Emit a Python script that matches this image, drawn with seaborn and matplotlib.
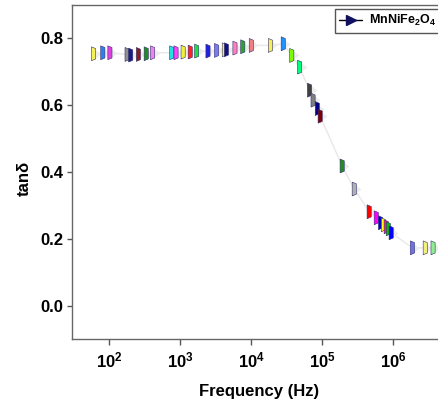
import numpy as np
import pandas as pd
import seaborn as sns
import matplotlib
matplotlib.use("Agg")
from matplotlib import pyplot as plt
from matplotlib.path import Path
from matplotlib.lines import Line2D

# ---------- dados ----------
frequencia = [60, 81, 102, 178, 200, 257, 331, 407, 759, 871,
              1096, 1380, 1698, 2455, 3236, 4169, 4467, 5888, 7586, 10000,
              18620, 28180, 37150, 47860, 66070, 74130, 85110, 93330, 190500, 281800,
              457100, 575400, 660700, 724400, 794300, 851100, 933300, 1862000, 2818000, 3631000]
tan_delta = [0.754, 0.757, 0.757, 0.752, 0.750, 0.752, 0.754, 0.757, 0.757, 0.757,
             0.759, 0.759, 0.762, 0.762, 0.764, 0.766, 0.766, 0.771, 0.775, 0.779,
             0.779, 0.784, 0.749, 0.714, 0.645, 0.615, 0.590, 0.567, 0.418, 0.349,
             0.281, 0.263, 0.248, 0.242, 0.236, 0.230, 0.218, 0.173, 0.173, 0.173]
serie = "MnNiFe$_\\mathbf{2}$O$_\\mathbf{4}$"
x_ticks = [1e2, 1e3, 1e4, 1e5, 1e6]
x_tick_labels = [r"$\mathbf{10^{2}}$", r"$\mathbf{10^{3}}$", r"$\mathbf{10^{4}}$",
                 r"$\mathbf{10^{5}}$", r"$\mathbf{10^{6}}$"]
y_ticks = [0.0, 0.2, 0.4, 0.6, 0.8]
y_tick_labels = ["0.0", "0.2", "0.4", "0.6", "0.8"]

# cores "misturadas" dos marcadores como aparecem na imagem
cores = ['#f5f05a', '#2e7fe8', '#e040e0', '#909090', '#1a1a80', '#8b1a1a', '#228b22', '#ee82ee',
         '#20e0e0', '#ff40ff', '#f0f040', '#ff2020', '#20e040', '#2020e0', '#7b7bef', '#f0f060',
         '#101080', '#ff80c0', '#30a030', '#f08080', '#f5f05a', '#1e90ff', '#7cfc00', '#00ff7f',
         '#404040', '#808080', '#000080', '#800000', '#228b22', '#b0b0b0', '#ff0000', '#ff00ff',
         '#0000cd', '#ffff00', '#ff1493', '#00c000', '#0000ff', '#7070e0', '#f0f080', '#90ee90']

df = pd.DataFrame({'freq': frequencia, 'tan': tan_delta, 'idx': range(len(frequencia))})

sns.set_style("white")
plt.rcParams['font.family'] = ['Liberation Sans', 'DejaVu Sans']
plt.rcParams['font.weight'] = 'bold'
plt.rcParams['text.color'] = 'black'
plt.rcParams['axes.labelcolor'] = 'black'
plt.rcParams['xtick.labelcolor'] = 'black'
plt.rcParams['ytick.labelcolor'] = 'black'
plt.rcParams['mathtext.fontset'] = 'custom'
plt.rcParams['mathtext.bf'] = 'Liberation Sans:bold'
plt.rcParams['mathtext.rm'] = 'Liberation Sans:bold'

fig = plt.figure(figsize=(4.39, 4.07), dpi=100)
ax = fig.add_axes([72.5 / 439, (407 - 339) / 407, (439 - 72.5) / 439, (339 - 5) / 407])

# linha bem clara ligando os pontos
sns.lineplot(data=df, x='freq', y='tan', color='#e8e8e8', linewidth=1, sort=False, ax=ax)

# "sombra" cinza dos triângulos
sombra = Path([(0, -1), (1.3, 0), (0, 1), (0, -1)])
sns.scatterplot(data=df, x='freq', y='tan', color='#ececec', marker=sombra, s=100,
                linewidth=0, ax=ax, legend=False, zorder=3)

# marcadores coloridos estreitos
barra = Path([(-0.3, -1), (0.3, -0.75), (0.3, 0.75), (-0.3, 1), (-0.3, -1)])
sns.scatterplot(data=df, x='freq', y='tan', hue='idx', palette=cores, marker=barra, s=100,
                linewidth=0.4, edgecolor='#303070', ax=ax, legend=False, zorder=4)

ax.set_xscale('log')
ax.set_xlim(10 ** (2 - 36.8 / 71), 10 ** (6 + 45.7 / 71))
ax.set_ylim(-0.1, 0.9)
ax.xaxis.set_major_locator(matplotlib.ticker.FixedLocator(x_ticks))
ax.xaxis.set_major_formatter(matplotlib.ticker.FixedFormatter(x_tick_labels))
ax.xaxis.set_minor_locator(matplotlib.ticker.NullLocator())
ax.set_yticks(y_ticks)
ax.set_yticklabels(y_tick_labels)

for lado in ['left', 'bottom', 'top']:
    ax.spines[lado].set_color('#666666')
    ax.spines[lado].set_linewidth(1)
ax.spines['right'].set_visible(False)

ax.tick_params(axis='x', direction='out', length=4.3, width=1, color='#555555',
               pad=4, labelsize=12, labelcolor='black', bottom=True)
ax.tick_params(axis='y', direction='out', length=3.3, width=1, color='#555555',
               pad=3, labelsize=12, labelcolor='black', left=True)
for rotulo in ax.get_yticklabels():
    rotulo.set_fontweight('bold')

ax.set_xlabel("Frequency (Hz)", fontsize=12, fontweight='bold', color='black')
ax.set_ylabel("tanδ", fontsize=12, fontweight='bold', color='black')
ax.xaxis.set_label_coords(0.509, -0.135)
ax.yaxis.set_label_coords(-0.11, 0.48)

# legenda
alca = Line2D([0], [0], color='black', linewidth=1, marker='>', markersize=7,
              markerfacecolor='#101060', markeredgecolor='#101060')
leg = ax.legend([alca], [serie], loc='upper left', bbox_to_anchor=(0.716, 0.988),
                borderaxespad=0, fancybox=False, framealpha=1, edgecolor='#555555',
                handlelength=1.8, handletextpad=0.6, borderpad=0.35,
                prop={'family': ['Liberation Sans'], 'weight': 'bold', 'size': 9})
leg.get_frame().set_linewidth(1)

plt.savefig("out.png", dpi=100)
